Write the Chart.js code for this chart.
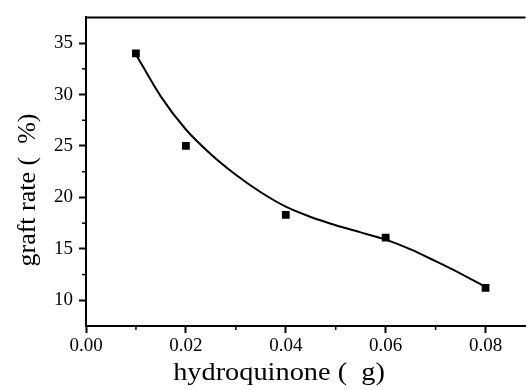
<!DOCTYPE html>
<html><head><meta charset="utf-8">
<script src="https://cdn.jsdelivr.net/npm/chart.js@4"></script>
<style>html,body{margin:0;padding:0;background:#fff;} canvas{display:block}</style>
</head><body>
<canvas id="c" width="531" height="390"></canvas>
<script>
const hydroquinone = [0.01, 0.02, 0.04, 0.06, 0.08];
const graftRate = [34.0, 25.0, 18.3, 16.1, 11.2];
const fitX = [0.01, 0.015, 0.02, 0.025, 0.03, 0.035, 0.04, 0.045, 0.05, 0.055, 0.06, 0.065, 0.07, 0.075, 0.08];
const fitY = [33.9, 29.8, 26.6, 24.2, 22.2, 20.5, 19.1, 18.1, 17.3, 16.6, 15.9, 14.95, 13.8, 12.6, 11.3];
const xTickValues = [0, 0.02, 0.04, 0.06, 0.08];
const xTickLabels = ['0.00', '0.02', '0.04', '0.06', '0.08'];
const xMinorValues = [0.01, 0.03, 0.05, 0.07];
const yTickValues = [10, 15, 20, 25, 30, 35];
const yTickLabels = ['10', '15', '20', '25', '30', '35'];
const yMinorValues = [12.5, 17.5, 22.5, 27.5, 32.5];
const xTitle = 'hydroquinone (  g)';
const yTitle = 'graft rate (  %)';

const FONT = '"Liberation Serif", "Times New Roman", serif';

const frame = {
  id: 'frame',
  afterDraw(chart) {
    const {ctx, chartArea: a, scales: {x, y}} = chart;
    ctx.save();
    ctx.strokeStyle = '#000';
    ctx.lineWidth = 2;
    ctx.beginPath(); ctx.moveTo(a.left - 1, a.top); ctx.lineTo(a.right, a.top); ctx.stroke();
    ctx.lineWidth = 1.5;
    xMinorValues.forEach(v => {
      const px = x.getPixelForValue(v);
      ctx.beginPath(); ctx.moveTo(px, a.bottom); ctx.lineTo(px, a.bottom + 4); ctx.stroke();
    });
    yMinorValues.forEach(v => {
      const py = y.getPixelForValue(v);
      ctx.beginPath(); ctx.moveTo(a.left, py); ctx.lineTo(a.left - 4, py); ctx.stroke();
    });
    ctx.fillStyle = '#000';
    ctx.font = '26px ' + FONT;
    ctx.textAlign = 'center';
    ctx.textBaseline = 'alphabetic';
    ctx.save();
    ctx.translate(a.left + 193, 380);
    ctx.scale(1.09, 1);
    ctx.fillText(xTitle, 0, 0);
    ctx.restore();
    ctx.translate(35, 190);
    ctx.rotate(-Math.PI / 2);
    ctx.fillText(yTitle, 0, 0);
    ctx.restore();
  }
};

new Chart(document.getElementById('c'), {
  type: 'scatter',
  data: {
    datasets: [
      {
        data: hydroquinone.map((v, i) => ({x: v, y: graftRate[i]})),
        pointStyle: 'rect',
        pointRadius: 5.5,
        backgroundColor: '#000',
        borderWidth: 0,
        showLine: false,
        order: 0
      },
      {
        data: fitX.map((v, i) => ({x: v, y: fitY[i]})),
        showLine: true,
        borderColor: '#000',
        borderWidth: 2,
        pointRadius: 0,
        cubicInterpolationMode: 'monotone',
        fill: false,
        order: 1
      }
    ]
  },
  options: {
    responsive: false,
    animation: false,
    devicePixelRatio: 1,
    layout: {padding: {top: 13, right: 0, left: 0, bottom: 0}},
    plugins: {legend: {display: false}, tooltip: {enabled: false}},
    scales: {
      x: {
        type: 'linear', min: 0, max: 0.088,
        afterFit(s) { s.height = 64; },
        afterBuildTicks(s) { s.ticks = xTickValues.map(v => ({value: v})); },
        ticks: {
          callback: v => xTickLabels[xTickValues.indexOf(v)],
          font: {family: FONT, size: 19}, color: '#000', padding: 2,
          maxRotation: 0, autoSkip: false
        },
        grid: {drawOnChartArea: false, drawTicks: true, tickLength: 7, tickColor: '#000', tickWidth: 2},
        border: {display: true, color: '#000', width: 2}
      },
      y: {
        type: 'linear', min: 7.5, max: 37.5,
        afterFit(s) { s.width = 86; },
        afterBuildTicks(s) { s.ticks = yTickValues.map(v => ({value: v})); },
        ticks: {
          callback: v => yTickLabels[yTickValues.indexOf(v)],
          font: {family: FONT, size: 19}, color: '#000', padding: 6,
          autoSkip: false
        },
        grid: {drawOnChartArea: false, drawTicks: true, tickLength: 7, tickColor: '#000', tickWidth: 2},
        border: {display: true, color: '#000', width: 2}
      }
    }
  },
  plugins: [frame]
});
</script>
</body></html>
